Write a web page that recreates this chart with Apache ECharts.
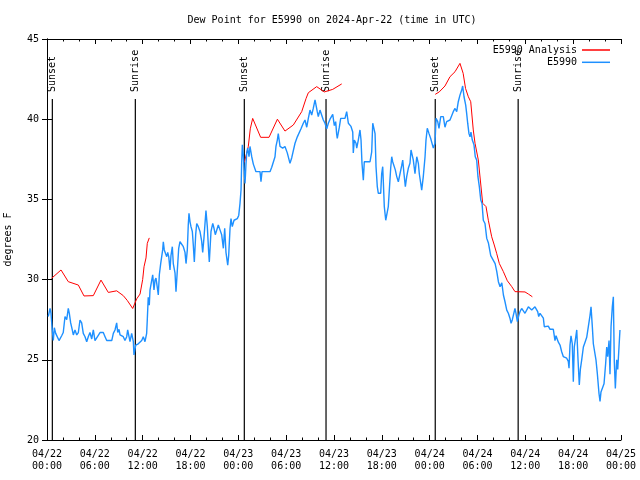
<!DOCTYPE html>
<html>
<head>
<meta charset="utf-8">
<script src="https://cdn.jsdelivr.net/npm/echarts@6/dist/echarts.min.js"></script>
<style>html,body{margin:0;padding:0;background:#fff}#c{width:640px;height:480px}</style>
</head>
<body>
<div id="c"></div>
<script>
// hours since 04/22 00:00 UTC
const tickLabels = ['04/22\n00:00','04/22\n06:00','04/22\n12:00','04/22\n18:00','04/23\n00:00','04/23\n06:00','04/23\n12:00','04/23\n18:00','04/24\n00:00','04/24\n06:00','04/24\n12:00','04/24\n18:00','04/25\n00:00'];
const eventHours = [0.67, 11.08, 24.75, 35.0, 48.7, 59.1];
const eventLabels = ['Sunset','Sunrise','Sunset','Sunrise','Sunset','Sunrise'];
const eventTop = 41.26;

const analysis = [
[0.58,30.08],[1.76,30.6],[2.67,29.87],[3.93,29.66],[4.64,28.98],[5.81,29.0],[6.77,29.97],[7.69,29.2],[8.74,29.3],[9.57,29.0],[10.07,28.7],[10.75,28.2],[11.25,28.8],[11.67,29.1],[12.0,30.0],[12.17,30.8],[12.42,31.35],[12.58,32.26],[12.83,32.6],
[18,'-'],
[24.75,37.3],[25.25,38.3],[25.5,39.4],[25.8,40.05],[26.8,38.87],[27.85,38.87],[28.9,40.0],[29.85,39.26],[30.9,39.64],[31.95,40.47],[32.5,41.3],[32.78,41.65],[33.83,42.03],[34.78,41.7],[35.84,41.86],[36.97,42.2],
[42,'-'],
[48.7,41.55],[49.2,41.7],[49.92,42.07],[50.55,42.65],[51.18,42.96],[51.8,43.48],[52.2,42.86],[52.5,41.92],[52.85,41.4],[53.15,41.09],[53.47,39.33],[53.69,38.5],[54.1,37.46],[54.65,34.76],[55.07,34.55],[55.36,33.7],[55.78,32.67],[56.1,32.16],[56.4,31.64],[56.74,31.0],[57.24,30.5],[57.74,29.93],[58.3,29.56],[58.7,29.25],[59.96,29.23],[60.38,29.1],[60.88,28.93]
];

const station = [
[0.16,27.7],[0.38,28.2],[0.5,27.9],[0.66,26.86],[0.79,26.2],[0.92,27.0],[1.09,26.65],[1.29,26.7],[1.51,26.2],[1.84,26.5],[2.04,26.7],[2.26,27.7],[2.47,27.5],[2.67,28.2],[2.8,27.9],[2.97,27.3],[3.17,26.86],[3.3,26.55],[3.51,26.86],[3.73,26.55],[3.93,26.7],[4.14,27.48],[4.35,27.3],[4.55,26.65],[4.77,26.44],[4.98,26.13],[5.18,26.44],[5.39,26.7],[5.61,26.3],[5.81,26.86],[6.02,26.2],[6.23,26.2],[6.65,26.7],[7.06,26.7],[7.28,26.44],[7.49,26.2],[8.12,26.2],[8.32,26.65],[8.53,26.86],[8.74,27.3],[8.87,26.7],[9.03,26.9],[9.16,26.55],[9.57,26.44],[9.78,26.2],[10.0,26.44],[10.12,26.86],[10.29,26.44],[10.41,26.13],[10.62,26.65],[10.83,26.13],[10.91,25.3],[11.04,25.2],[11.13,25.92],[11.45,26.0],[11.67,26.0],[11.88,26.2],[12.08,26.44],[12.29,26.13],[12.5,26.65],[12.58,27.5],[12.7,28.9],[12.83,28.4],[12.92,29.35],[13.14,29.97],[13.26,30.3],[13.42,29.35],[13.55,29.97],[13.67,30.1],[13.84,29.5],[13.96,29.04],[14.09,30.3],[14.26,31.0],[14.51,31.85],[14.59,32.36],[14.71,31.85],[14.89,31.6],[15.02,31.43],[15.14,31.7],[15.27,31.43],[15.43,30.6],[15.55,31.5],[15.72,32.05],[15.84,31.0],[16.06,30.4],[16.18,29.25],[16.35,30.6],[16.52,31.95],[16.68,32.36],[16.9,32.36],[17.1,32.05],[17.31,31.7],[17.44,31.0],[17.6,31.85],[17.72,33.4],[17.81,34.13],[17.94,33.6],[18.06,33.3],[18.23,33.0],[18.35,32.16],[18.48,31.1],[18.65,32.8],[18.78,33.5],[18.98,33.3],[19.19,33.0],[19.4,32.4],[19.53,31.7],[19.69,32.6],[19.82,33.5],[19.94,34.3],[20.11,33.3],[20.28,31.7],[20.36,31.1],[20.57,33.0],[20.79,33.5],[20.95,33.2],[21.11,32.8],[21.29,32.8],[21.49,33.4],[21.7,33.1],[21.91,32.8],[22.12,31.95],[22.29,33.2],[22.45,31.7],[22.67,30.9],[22.79,31.5],[22.96,33.2],[23.08,33.8],[23.24,33.3],[23.46,33.7],[23.71,33.7],[23.87,33.8],[24.05,34.0],[24.21,34.75],[24.34,35.6],[24.42,37.3],[24.5,38.4],[24.62,37.8],[24.71,37.0],[24.84,36.0],[24.96,37.2],[25.05,37.87],[25.17,38.2],[25.34,37.66],[25.46,38.3],[25.68,37.66],[25.88,37.2],[26.09,37.3],[26.21,36.73],[26.72,36.73],[26.84,36.1],[26.97,36.73],[27.97,36.73],[28.19,37.0],[28.39,37.0],[28.6,37.66],[28.72,38.3],[28.89,38.7],[29.01,39.1],[29.23,38.3],[29.56,38.2],[29.85,38.3],[30.14,37.9],[30.48,37.25],[30.7,37.6],[31.11,38.5],[31.4,38.9],[31.65,38.9],[31.86,39.4],[32.15,39.75],[32.36,39.95],[32.58,39.5],[32.78,40.05],[32.99,40.57],[33.2,40.26],[33.4,40.67],[33.62,41.2],[33.74,41.2],[33.9,40.47],[34.03,40.16],[34.24,40.57],[34.46,40.57],[34.66,39.95],[34.87,39.75],[35.09,39.4],[35.29,39.75],[35.5,40.0],[35.71,40.1],[35.84,40.3],[36.04,39.6],[36.21,39.85],[36.33,39.1],[36.41,38.8],[36.54,38.9],[36.67,39.5],[36.84,40.05],[37.38,40.05],[37.59,40.47],[37.8,39.75],[38.01,39.85],[38.13,39.55],[38.35,39.2],[38.42,37.9],[38.55,38.7],[38.76,38.5],[38.85,38.2],[39.05,38.7],[39.26,39.33],[39.39,38.7],[39.51,37.25],[39.68,36.2],[39.8,37.35],[40.1,37.35],[40.3,37.25],[40.52,37.35],[40.73,37.97],[40.86,39.75],[41.02,39.85],[41.15,39.1],[41.27,37.04],[41.43,35.8],[41.56,35.38],[41.86,35.38],[41.98,36.6],[42.11,37.04],[42.18,36.2],[42.31,34.55],[42.49,33.7],[42.69,33.7],[42.81,34.55],[42.94,35.58],[43.11,36.94],[43.24,37.66],[43.36,37.35],[43.53,37.45],[43.69,36.84],[43.87,36.42],[44.07,36.1],[44.28,36.6],[44.49,37.1],[44.62,37.45],[44.78,36.6],[44.95,35.8],[45.12,36.42],[45.32,36.94],[45.53,37.25],[45.66,38.08],[45.79,38.2],[45.95,37.45],[46.16,36.6],[46.38,37.66],[46.58,37.25],[46.7,36.6],[46.88,36.0],[47.0,35.58],[47.2,36.42],[47.42,37.66],[47.54,38.7],[47.7,39.43],[47.92,39.1],[48.13,38.8],[48.29,38.7],[48.46,38.2],[48.67,38.5],[48.8,40.05],[49.01,39.85],[49.17,39.43],[49.39,40.16],[49.71,40.16],[49.92,39.5],[50.13,39.85],[50.55,39.95],[50.76,39.85],[50.96,40.47],[51.18,40.67],[51.39,40.47],[51.59,41.09],[51.8,41.5],[52.01,41.8],[52.14,42.07],[52.31,41.4],[52.52,40.88],[52.64,40.36],[52.77,39.75],[52.93,39.1],[53.06,38.9],[53.18,39.2],[53.35,38.7],[53.56,38.4],[53.72,37.66],[53.9,37.45],[54.06,36.4],[54.23,35.8],[54.41,34.96],[54.57,34.75],[54.73,33.7],[54.94,33.5],[55.16,32.57],[55.36,32.3],[55.66,31.5],[55.91,31.4],[56.21,31.0],[56.42,30.5],[56.62,29.87],[56.83,29.56],[57.05,29.8],[57.25,29.04],[57.45,28.62],[57.67,28.1],[57.87,27.9],[58.08,27.58],[58.21,27.27],[58.37,27.5],[58.5,27.58],[58.7,28.2],[58.83,27.9],[59.0,27.38],[59.2,27.8],[59.33,28.0],[59.54,28.2],[59.74,28.1],[59.96,27.9],[60.17,28.0],[60.38,28.3],[60.59,28.2],[60.8,28.1],[61.0,28.2],[61.21,28.3],[61.43,28.2],[61.55,28.0],[61.68,27.7],[61.84,27.9],[62.05,28.0],[62.26,27.6],[62.38,27.06],[62.56,27.1],[62.88,27.1],[63.1,26.9],[63.31,27.0],[63.51,26.9],[63.72,26.2],[63.85,26.5],[64.01,26.4],[64.14,26.1],[64.35,25.92],[64.56,25.5],[64.76,25.2],[64.98,25.3],[65.19,25.1],[65.39,24.9],[65.48,24.47],[65.6,25.9],[65.73,26.5],[65.89,26.0],[66.02,23.64],[66.14,25.8],[66.32,26.4],[66.45,26.86],[66.61,25.0],[66.77,23.43],[66.9,24.4],[67.07,25.0],[67.28,25.8],[67.49,26.1],[67.7,26.4],[67.9,26.5],[68.12,27.79],[68.24,28.3],[68.4,27.1],[68.53,26.0],[68.74,26.1],[68.86,25.0],[69.03,24.15],[69.24,22.9],[69.37,22.4],[69.49,23.0],[69.66,23.0],[69.87,23.5],[70.08,24.8],[70.21,25.8],[70.33,25.2],[70.5,26.2],[70.62,24.1],[70.75,27.06],[70.91,28.3],[71.04,28.93],[71.16,24.9],[71.29,23.22],[71.46,25.0],[71.59,24.4],[71.75,25.8],[71.87,26.86]
];

const FONT = '"DejaVu Sans Mono", monospace';
const chart = echarts.init(document.getElementById('c'), null, {renderer: 'canvas'});
const axisCommon = {
  axisLine: {show: true, lineStyle: {color: '#000', width: 1}},
  splitLine: {show: false}
};
chart.setOption({
  animation: false,
  backgroundColor: '#fff',
  title: {
    text: 'Dew Point for E5990 on 2024-Apr-22 (time in UTC)',
    left: 332, top: 15, textAlign: 'center', padding: 0,
    textStyle: {fontFamily: FONT, fontSize: 10, fontWeight: 'normal', color: '#000'}
  },
  legend: {
    data: ['E5990 Analysis', 'E5990'],
    orient: 'vertical', right: 30, top: 45, align: 'right',
    itemWidth: 28, itemHeight: 1.5, itemGap: 2.3, icon: 'rect', padding: 0,
    selectedMode: false,
    textStyle: {fontFamily: FONT, fontSize: 10, color: '#000'}
  },
  grid: {left: 47, right: 19, top: 39, bottom: 40, containLabel: false, outerBoundsMode: 'none'},
  xAxis: [
    Object.assign({
      type: 'value', min: 0, max: 72, interval: 6, position: 'bottom',
      axisTick: {inside: true, length: 5, lineStyle: {color: '#000'}},
      minorTick: {show: true, splitNumber: 3, length: 2.5, lineStyle: {color: '#000'}},
      minorSplitLine: {show: false},
      axisLabel: {formatter: v => tickLabels[Math.round(v / 6)], fontFamily: FONT, fontSize: 10, color: '#000', margin: 8, lineHeight: 12, showMinLabel: true, showMaxLabel: true, hideOverlap: false}
    }, axisCommon),
    Object.assign({
      type: 'value', min: 0, max: 72, interval: 6, position: 'top',
      axisTick: {inside: true, length: 5, lineStyle: {color: '#000'}},
      minorTick: {show: true, splitNumber: 3, length: 2.5, lineStyle: {color: '#000'}},
      minorSplitLine: {show: false},
      axisLabel: {show: false}
    }, axisCommon)
  ],
  yAxis: [
    Object.assign({
      type: 'value', min: 20, max: 45, interval: 5, position: 'left',
      name: 'degrees F', nameLocation: 'middle', nameGap: 34, nameRotate: 90,
      nameTextStyle: {fontFamily: FONT, fontSize: 10, color: '#000'},
      axisTick: {inside: true, length: 5, lineStyle: {color: '#000'}},
      axisLabel: {fontFamily: FONT, fontSize: 10, color: '#000', margin: 8}
    }, axisCommon),
    Object.assign({
      type: 'value', min: 20, max: 45, interval: 5, position: 'right',
      axisTick: {inside: true, length: 5, lineStyle: {color: '#000'}},
      axisLabel: {show: false}
    }, axisCommon)
  ],
  series: [
    {
      type: 'custom', name: 'events', silent: true, clip: false, z: 1,
      data: eventHours.map(h => [h, eventTop]),
      renderItem: function (params, api) {
        const h = api.value(0);
        const top = api.coord([h, api.value(1)]);
        const bot = api.coord([h, 20]);
        return {
          type: 'group',
          children: [
            {type: 'line', shape: {x1: top[0], y1: top[1], x2: bot[0], y2: bot[1]}, style: {stroke: '#000', lineWidth: 1.2}},
            {type: 'text', x: top[0], y: top[1] - 7, rotation: Math.PI / 2,
             style: {text: eventLabels[params.dataIndex], fill: '#000', fontFamily: 'DejaVu Sans Mono', fontSize: 10, align: 'left', verticalAlign: 'middle'}}
          ]
        };
      }
    },
    {
      type: 'line', name: 'E5990 Analysis', data: analysis, symbol: 'none', connectNulls: false, z: 2,
      lineStyle: {color: '#ff0000', width: 1}, itemStyle: {color: '#ff0000'}
    },
    {
      type: 'line', name: 'E5990', data: station, symbol: 'none', z: 3,
      lineStyle: {color: '#1e90ff', width: 1.4}, itemStyle: {color: '#1e90ff'}
    }
  ]
});
</script>
</body>
</html>
